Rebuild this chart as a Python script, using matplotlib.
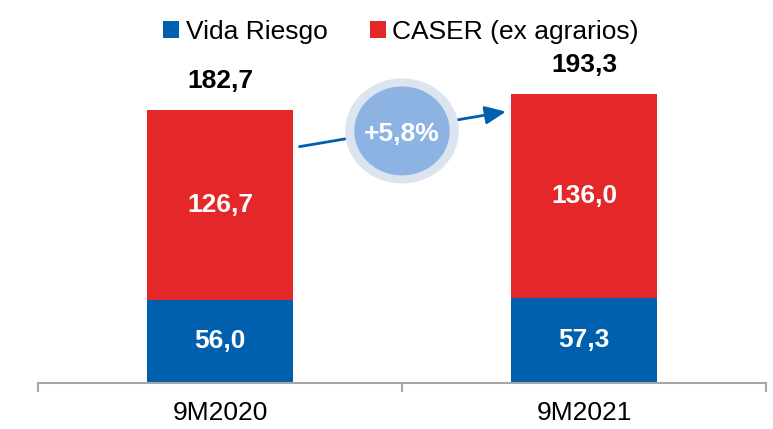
import matplotlib
matplotlib.use('Agg')
import matplotlib.pyplot as plt
from matplotlib.patches import Ellipse, Patch
import numpy as np

plt.rcParams['font.family'] = ['Liberation Sans', 'DejaVu Sans']

categories = ['9M2020', '9M2021']
vida_riesgo = [56.0, 57.3]
caser = [126.7, 136.0]
totals = [182.7, 193.3]
growth_label = '+5,8%'

BLUE = '#0060AE'
RED = '#E42729'
GREY = '#A6A6A6'

def fmt(v):
    return f'{v:.1f}'.replace('.', ',')

fig = plt.figure(figsize=(7.73, 4.29), dpi=100)
W, H = 773, 429
ax = fig.add_axes([38 / W, (H - 383.3) / H, 728 / W, 333.3 / H])

x = np.arange(len(categories))
bw = 0.403
ax.bar(x, vida_riesgo, bw, color=BLUE, zorder=2)
ax.bar(x, caser, bw, bottom=vida_riesgo, color=RED, zorder=2)

for i in range(len(categories)):
    ax.text(x[i], vida_riesgo[i] / 2, fmt(vida_riesgo[i]), color='white',
            fontsize=19, fontweight='bold', ha='center', va='center', zorder=3)
    ax.text(x[i], vida_riesgo[i] + caser[i] / 2, fmt(caser[i]), color='white',
            fontsize=19, fontweight='bold', ha='center', va='center', zorder=3)
    ax.annotate(fmt(totals[i]), (x[i], totals[i]), xytext=(0, 12),
                textcoords='offset points', ha='center', va='bottom',
                fontsize=19, fontweight='bold', color='black')

ax.set_xlim(-0.5, 1.5)
ax.set_ylim(0, 222.8)

# growth arrow + bubble
ax.annotate('', xy=(x[1] - bw / 2 - 0.013, 181.6), xytext=(x[0] + bw / 2 + 0.017, 158.2),
            arrowprops=dict(arrowstyle='-|>,head_length=1.25,head_width=0.55',
                            color=BLUE, lw=2, shrinkA=0, shrinkB=0), zorder=4)
ax.add_patch(Ellipse((0.5, 168.7), 0.3125, 70.2, facecolor='#DCE4F0',
                     edgecolor='none', zorder=5))
ax.add_patch(Ellipse((0.5, 168.7), 0.262, 59.5, facecolor='#8DB3E2',
                     edgecolor='none', zorder=6))
ax.text(0.5, 166.5, growth_label, color='white', fontsize=19, fontweight='bold',
        ha='center', va='center', zorder=7)

for s in ['top', 'right', 'left']:
    ax.spines[s].set_visible(False)
ax.spines['bottom'].set_color(GREY)
ax.spines['bottom'].set_linewidth(1.5)
ax.set_yticks([])
ax.set_xticks(x)
ax.set_xticklabels(categories, fontsize=19)
ax.tick_params(axis='x', which='major', length=0, pad=13)
ax.set_xticks([-0.5, 0.5, 1.5], minor=True)
ax.tick_params(axis='x', which='minor', length=6.5, width=1.5, color=GREY)

handles = [Patch(facecolor=BLUE), Patch(facecolor=RED)]
fig.legend(handles, ['Vida Riesgo', 'CASER (ex agrarios)'], loc='center',
           bbox_to_anchor=(401 / W, 1 - 32 / H), ncol=2, frameon=False,
           fontsize=19, handlelength=0.6, handleheight=0.6, handletextpad=0.25,
           columnspacing=1.6, borderpad=0)

fig.savefig('out.png', dpi=100)
